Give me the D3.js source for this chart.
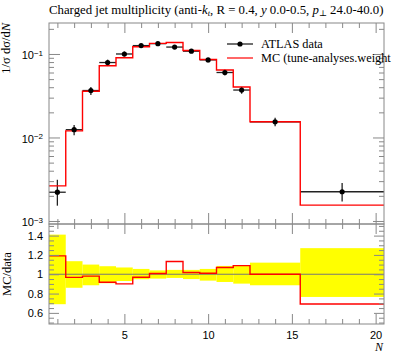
<!DOCTYPE html>
<html>
<head>
<meta charset="utf-8">
<title>Charged jet multiplicity</title>
<script src="https://d3js.org/d3.v7.min.js"></script>
<style>
  body { margin: 0; background: #fff; }
  svg { display: block; font-family: "Liberation Serif", "DejaVu Serif", serif; }
  .tick line { stroke: #888; }
  .tick text { fill: #000; font-size: 11px; }
</style>
</head>
<body>
<svg id="chart" width="397" height="358"></svg>
<script>
// bins and values
const binEdges = [0.5, 1.5, 2.5, 3.5, 4.5, 5.5, 6.5, 7.5, 8.5, 9.5, 10.5, 11.5, 12.5, 15.5, 20.5];
const dataX = [1, 2, 3, 4, 5, 6, 7, 8, 9, 10, 11, 12, 14, 18];
const dataY = [0.00221, 0.0124, 0.0365, 0.079, 0.100, 0.126, 0.133, 0.121, 0.108, 0.085, 0.060, 0.037, 0.0154, 0.00224];
const mcY = [0.00263, 0.0120, 0.0358, 0.0724, 0.090, 0.122, 0.134, 0.137, 0.110, 0.0859, 0.0642, 0.0403, 0.0154, 0.00155];
// relative data uncertainties (up / down)
const errUp = [0.41, 0.135, 0.10, 0.083, 0.07, 0.055, 0.04, 0.045, 0.045, 0.055, 0.086, 0.09, 0.12, 0.27];
const errDn = [0.31, 0.14, 0.114, 0.093, 0.07, 0.052, 0.045, 0.038, 0.05, 0.066, 0.08, 0.097, 0.114, 0.235];
const xMajor = [5, 10, 15, 20];
const yMajor = [1e-3, 1e-2, 1e-1];
const yMajorExp = ["−3", "−2", "−1"];
const rMajor = [0.6, 0.8, 1, 1.2, 1.4];
const legendLabels = ["ATLAS data", "MC (tune-analyses.weight"];

const svg = d3.select("#chart");
const L = 49, R = 384, T = 23, MB = 224, RB = 324;

const x = d3.scaleLinear().domain([0.5, 20.5]).range([L, R]);
const y = d3.scaleLog().domain([0.00092, 0.235]).range([MB, T]);
const yr = d3.scaleLinear().domain([0.485, 1.52]).range([RB, MB]);

svg.append("clipPath").attr("id", "clipMain")
  .append("rect").attr("x", L).attr("y", T).attr("width", R - L).attr("height", MB - T);
svg.append("clipPath").attr("id", "clipRatio")
  .append("rect").attr("x", L).attr("y", MB).attr("width", R - L).attr("height", RB - MB);

// ---------- ratio panel ----------
const ratio = svg.append("g").attr("clip-path", "url(#clipRatio)");
ratio.selectAll("rect.band")
  .data(dataY)
  .enter().append("rect")
  .attr("class", "band")
  .attr("x", (d, i) => x(binEdges[i]))
  .attr("width", (d, i) => x(binEdges[i + 1]) - x(binEdges[i]))
  .attr("y", (d, i) => yr(1 + errUp[i]))
  .attr("height", (d, i) => yr(1 - errDn[i]) - yr(1 + errUp[i]))
  .attr("fill", "#ffff00");

ratio.append("line")
  .attr("x1", L).attr("x2", R)
  .attr("y1", yr(1)).attr("y2", yr(1))
  .attr("stroke", "#777").attr("stroke-width", 1);

const ratioPts = mcY.map((v, i) => [binEdges[i], v / dataY[i]]);
ratioPts.push([binEdges[binEdges.length - 1], mcY[mcY.length - 1] / dataY[dataY.length - 1]]);
ratio.append("path")
  .attr("d", d3.line().x(d => x(d[0])).y(d => yr(d[1])).curve(d3.curveStepAfter)(ratioPts))
  .attr("fill", "none").attr("stroke", "#f00").attr("stroke-width", 1.4);

// ---------- main panel ----------
const main = svg.append("g").attr("clip-path", "url(#clipMain)");

// data error bars
main.selectAll("line.hbar")
  .data(dataY)
  .enter().append("line")
  .attr("x1", (d, i) => x(binEdges[i]))
  .attr("x2", (d, i) => x(binEdges[i + 1]))
  .attr("y1", d => y(d)).attr("y2", d => y(d))
  .attr("stroke", "#222").attr("stroke-width", 1.3);

main.selectAll("line.vbar")
  .data(dataY)
  .enter().append("line")
  .attr("x1", (d, i) => x(dataX[i])).attr("x2", (d, i) => x(dataX[i]))
  .attr("y1", (d, i) => y(d * (1 + errUp[i])))
  .attr("y2", (d, i) => y(d * (1 - errDn[i])))
  .attr("stroke", "#222").attr("stroke-width", 1.3);

// MC histogram
const mcPts = mcY.map((v, i) => [binEdges[i], v]);
mcPts.push([binEdges[binEdges.length - 1], mcY[mcY.length - 1]]);
main.append("path")
  .attr("d", d3.line().x(d => x(d[0])).y(d => y(d[1])).curve(d3.curveStepAfter)(mcPts))
  .attr("fill", "none").attr("stroke", "#f00").attr("stroke-width", 1.4);

main.selectAll("circle.pt")
  .data(dataY)
  .enter().append("circle")
  .attr("cx", (d, i) => x(dataX[i]))
  .attr("cy", d => y(d))
  .attr("r", 2.6)
  .attr("fill", "#000");

// ---------- axes ----------
const xMinor = d3.range(1, 21).filter(v => xMajor.indexOf(v) < 0);
const yMinor = [];
[1e-3, 1e-2, 1e-1].forEach(dec => {
  for (let k = 2; k <= 9; k++) {
    const v = dec * k;
    if (v > y.domain()[0] && v < y.domain()[1]) yMinor.push(v);
  }
});
const rMinor = d3.range(0.5, 1.51, 0.05).map(v => +v.toFixed(2))
  .filter(v => !rMajor.some(m => Math.abs(m - v) < 1e-6));

function place(axis, tx, ty) {
  const g = svg.append("g").attr("transform", `translate(${tx},${ty})`).call(axis);
  g.select(".domain").remove();
  return g;
}

// main panel: left with labels
const yLab = place(d3.axisLeft(y).tickValues(yMajor).tickSize(-11).tickPadding(6).tickFormat(() => "10"), L, 0);
yLab.selectAll(".tick text")
  .attr("dy", "0.45em")
  .append("tspan")
  .attr("dy", "-0.45em")
  .attr("font-size", "8px")
  .text((d, i) => yMajorExp[i]);
place(d3.axisLeft(y).tickValues(yMinor).tickSize(-5).tickFormat(""), L, 0);
place(d3.axisRight(y).tickValues(yMajor).tickSize(-11).tickFormat(""), R, 0);
place(d3.axisRight(y).tickValues(yMinor).tickSize(-5).tickFormat(""), R, 0);
place(d3.axisTop(x).tickValues(xMajor).tickSize(-10).tickFormat(""), 0, T);
place(d3.axisTop(x).tickValues(xMinor).tickSize(-5).tickFormat(""), 0, T);
place(d3.axisBottom(x).tickValues(xMajor).tickSize(-11).tickFormat(""), 0, MB);
place(d3.axisBottom(x).tickValues(xMinor).tickSize(-5).tickFormat(""), 0, MB);

// ratio panel
place(d3.axisLeft(yr).tickValues(rMajor).tickSize(-10).tickPadding(6).tickFormat(d => d3.format("")(d)), L, 0);
place(d3.axisLeft(yr).tickValues(rMinor).tickSize(-5).tickFormat(""), L, 0);
place(d3.axisRight(yr).tickValues(rMajor).tickSize(-10).tickFormat(""), R, 0);
place(d3.axisRight(yr).tickValues(rMinor).tickSize(-5).tickFormat(""), R, 0);
place(d3.axisBottom(x).tickValues(xMajor).tickSize(10).tickFormat(""), 0, MB);
place(d3.axisBottom(x).tickValues(xMinor).tickSize(5).tickFormat(""), 0, MB);
place(d3.axisBottom(x).tickValues(xMajor).tickSize(-10).tickPadding(7), 0, RB);
place(d3.axisBottom(x).tickValues(xMinor).tickSize(-5).tickFormat(""), 0, RB);

// frames
[[T, MB], [MB, RB]].forEach(([a, b]) => {
  svg.append("rect")
    .attr("x", L).attr("y", a).attr("width", R - L).attr("height", b - a)
    .attr("fill", "none").attr("stroke", "#888").attr("stroke-width", 1);
});

// ---------- labels ----------
const title = svg.append("text").attr("x", L).attr("y", 14).attr("font-size", "12.8px");
title.append("tspan").text("Charged jet multiplicity (anti-");
title.append("tspan").attr("font-style", "italic").text("k");
title.append("tspan").attr("font-style", "italic").attr("font-size", "8.5px").attr("dy", 2).text("t");
title.append("tspan").attr("dy", -2).text(", R = 0.4, ");
title.append("tspan").attr("font-style", "italic").text("y");
title.append("tspan").text(" 0.0-0.5, ");
title.append("tspan").attr("font-style", "italic").text("p");
title.append("tspan").attr("font-size", "8.5px").attr("dy", 2).text("⊥");
title.append("tspan").attr("dy", -2).text(" 24.0-40.0)");

const yTitle = svg.append("text")
  .attr("transform", `translate(10,${T}) rotate(-90)`)
  .attr("text-anchor", "end").attr("font-size", "12.5px");
yTitle.append("tspan").text("1/σ dσ/d");
yTitle.append("tspan").attr("font-style", "italic").text("N");

svg.append("text")
  .attr("transform", `translate(11,${(MB + RB) / 2}) rotate(-90)`)
  .attr("text-anchor", "middle").attr("font-size", "12.5px")
  .text("MC/data");

svg.append("text")
  .attr("x", R - 1).attr("y", 351)
  .attr("text-anchor", "end").attr("font-size", "12px").attr("font-style", "italic")
  .text("N");

// legend
const leg = svg.append("g");
leg.append("line").attr("x1", 227).attr("x2", 253).attr("y1", 44).attr("y2", 44)
  .attr("stroke", "#222").attr("stroke-width", 1.3);
leg.append("circle").attr("cx", 240).attr("cy", 44).attr("r", 2.6).attr("fill", "#000");
leg.append("line").attr("x1", 227).attr("x2", 253).attr("y1", 58).attr("y2", 58)
  .attr("stroke", "#f00").attr("stroke-width", 1.2);
leg.selectAll("text.leg")
  .data(legendLabels)
  .enter().append("text")
  .attr("x", 261).attr("y", (d, i) => 48 + i * 14)
  .attr("font-size", "12.3px")
  .text(d => d);
</script>
</body>
</html>
